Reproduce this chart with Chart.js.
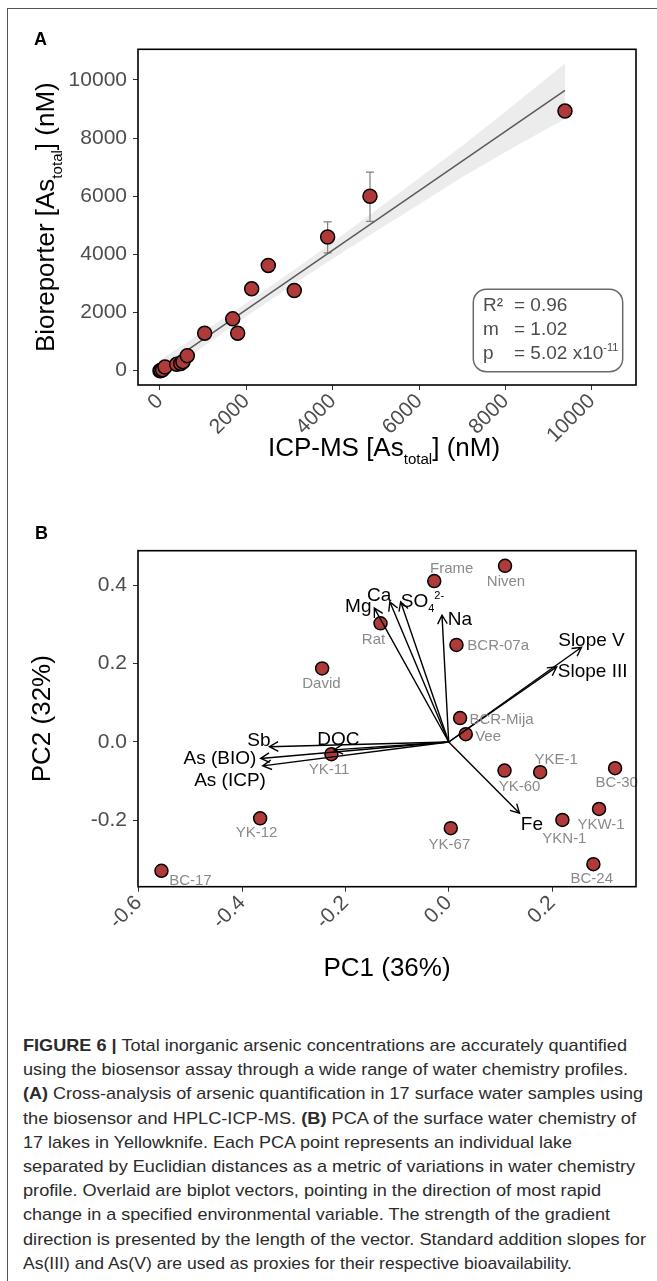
<!DOCTYPE html>
<html>
<head>
<meta charset="utf-8">
<script src="https://cdn.jsdelivr.net/npm/chart.js@4.4.1/dist/chart.umd.min.js"></script>
<style>
  body { margin: 0; background: #fff; width: 657px; height: 1281px; overflow: hidden; position: relative; }
  #frameTop { position: absolute; left: 7px; top: 8px; width: 660px; border-top: 1px solid #555; }
  #frameLeft { position: absolute; left: 7px; top: 8px; height: 1290px; border-left: 1px solid #555; }
  canvas { position: absolute; left: 0; }
  #chartA { top: 0; }
  #chartB { top: 500px; }
  #caption { position: absolute; left: 23px; top: 1034px; font-family: "Liberation Sans Narrow", "Liberation Sans", Arial, sans-serif;
             font-size: 17px; line-height: 24.2px; color: #2b2b2b; }
  #caption div { white-space: nowrap; height: 24.2px; }
  #caption span { display: inline-block; transform-origin: 0 50%; }
</style>
</head>
<body>
<div id="frameTop"></div>
<div id="frameLeft"></div>
<canvas id="chartA" width="657" height="500"></canvas>
<canvas id="chartB" width="657" height="500"></canvas>
<div id="caption">
  <div><span><b>FIGURE 6 |</b> Total inorganic arsenic concentrations are accurately quantified</span></div>
  <div><span>using the biosensor assay through a wide range of water chemistry profiles.</span></div>
  <div><span><b>(A)</b> Cross-analysis of arsenic quantification in 17 surface water samples using</span></div>
  <div><span>the biosensor and HPLC-ICP-MS. <b>(B)</b> PCA of the surface water chemistry of</span></div>
  <div><span>17 lakes in Yellowknife. Each PCA point represents an individual lake</span></div>
  <div><span>separated by Euclidian distances as a metric of variations in water chemistry</span></div>
  <div><span>profile. Overlaid are biplot vectors, pointing in the direction of most rapid</span></div>
  <div><span>change in a specified environmental variable. The strength of the gradient</span></div>
  <div><span>direction is presented by the length of the vector. Standard addition slopes for</span></div>
  <div><span>As(III) and As(V) are used as proxies for their respective bioavailability.</span></div>
</div>
<script>
// panel A: arsenic, ICP-MS vs bioreporter (nM)
const icpMs       = [0, 20, 60, 116, 386, 480, 532, 632, 1034, 1683, 1798, 2122, 2507, 3109, 3881, 4861, 9375]
const bioreporter = [0, 10, 30, 128, 220, 250, 310, 517, 1290, 1783, 1290, 2817, 3621, 2759, 4600, 6000, 8931]
const bioErrLow   = [null, null, null, null, null, null, null, null, null, null, null, null, null, null, 4050, 5140, null]
const bioErrHigh  = [null, null, null, null, null, null, null, null, null, null, null, null, null, null, 5120, 6830, null]
// fitted line and its confidence band
const fitX = [39, 9375]
const fitY = [100, 9640]
const bandX    = [39, 1000, 2000, 3000, 4000, 5000, 6000, 7000, 8000, 9375]
const bandLow  = [-200, 820, 1870, 2880, 3860, 4800, 5730, 6660, 7520, 8670]
const bandHigh = [400, 1340, 2330, 3360, 4420, 5520, 6630, 7740, 8920, 10570]
const ticksA = [0, 2000, 4000, 6000, 8000, 10000]
const statNames  = ['R\u00b2', 'm', 'p']
const statValues = ['= 0.96', '= 1.02', '= 5.02 x10^{-11}']

// panel B: PCA of lake water chemistry
const lakes = ['Frame', 'Niven', 'Rat', 'BCR-07a', 'David', 'BCR-Mija', 'Vee', 'YK-11', 'YK-60', 'YKE-1',
               'BC-30', 'YKW-1', 'YKN-1', 'YK-12', 'YK-67', 'BC-24', 'BC-17']
const pc1 = [-0.028, 0.109, -0.132, 0.015, -0.245, 0.022, 0.033, -0.227, 0.108, 0.177, 0.322, 0.291, 0.220, -0.365, 0.004, 0.280, -0.556]
const pc2 = [0.411, 0.450, 0.303, 0.248, 0.188, 0.061, 0.020, -0.031, -0.073, -0.077, -0.067, -0.171, -0.199, -0.195, -0.220, -0.312, -0.329]
const vectors = ['Mg', 'Ca', 'SO_{4}^{2-}', 'Na', 'Slope V', 'Slope III', 'Sb', 'DOC', 'As (BIO)', 'As (ICP)', 'Fe']
const vecPC1 = [-0.144, -0.114, -0.093, -0.013, 0.257, 0.209, -0.347, -0.222, -0.364, -0.360, 0.137]
const vecPC2 = [0.342, 0.358, 0.358, 0.324, 0.242, 0.192, -0.012, -0.020, -0.042, -0.061, -0.182]
const ticksBx = [-0.6, -0.4, -0.2, 0, 0.2]
const ticksBy = [-0.2, 0, 0.2, 0.4]

// label placement (pixels from the mark)
const lakeLabelDx = [17.4, 1, -7, 41.7, -0.7, 41.4, 22.3, -2.4, 15, 16, 1.6, 2, 2, -3.6, -1.4, -1.6, 29]
const lakeLabelDy = [-13.4, 15, 15.4, 0, 14.5, 0, 1.5, 14, 15.5, -14, 13.4, 15, 18, 13.4, 15, 13.7, 8.3]
const vecLabelDx = [-16, -10.6, 21.8, 18, 10, 36, -10.6, 4.4, -40.7, -32.7, 12.4]
const vecLabelDy = [-3, -7.7, -2.2, 3, -8, 3, -7.7, -12, -1.3, 13, 9.7]

const FONT = '"Liberation Sans", Arial, Helvetica, sans-serif'
const RED = '#b03a3a'
Chart.defaults.font.family = FONT

// "a_{sub}" and "a^{sup}" text pieces
function richParts(s) {
    const out = []
    const re = /([_^])\{([^}]*)\}/g
    let last = 0, m
    while ((m = re.exec(s))) {
        if (m.index > last) out.push({ t: s.slice(last, m.index), k: '' })
        out.push({ t: m[2], k: m[1] })
        last = re.lastIndex
    }
    if (last < s.length) out.push({ t: s.slice(last), k: '' })
    return out
}
function drawRich(ctx, s, x, y, size, align, color, weight) {
    const parts = richParts(s)
    const fontFor = k => (weight || '') + ' ' + (k ? size * 0.58 : size) + 'px ' + FONT
    let w = 0
    parts.forEach(p => { ctx.font = fontFor(p.k); p.w = ctx.measureText(p.t).width; w += p.w })
    let cx = align === 'center' ? x - w / 2 : align === 'right' ? x - w : x
    ctx.fillStyle = color
    ctx.textAlign = 'left'
    ctx.textBaseline = 'alphabetic'
    parts.forEach(p => {
        ctx.font = fontFor(p.k)
        const dy = p.k === '_' ? size * 0.3 : p.k === '^' ? -size * 0.42 : 0
        ctx.fillText(p.t, cx, y + dy)
        cx += p.w
    })
}

function axis(min, max, ticks, fmt, isX, fit) {
    return {
        type: 'linear', min: min, max: max,
        afterBuildTicks: s => { s.ticks = ticks.map(v => ({ value: v })) },
        afterFit: s => { if (isX) s.height = fit; else s.width = fit },
        ticks: Object.assign({ autoSkip: false, color: '#4d4d4d', callback: fmt },
            isX ? { minRotation: 45, maxRotation: 45, padding: 5, font: { size: 21, lineHeight: 0.38 } }
                : { padding: 6, font: { size: 21 } }),
        grid: { display: true, drawOnChartArea: false, drawTicks: true, tickLength: 5, color: '#333', lineWidth: 1 },
        border: { display: false }
    }
}

const panelBox = {
    id: 'panelBox',
    afterDraw(chart) {
        const a = chart.chartArea, ctx = chart.ctx
        ctx.save()
        ctx.strokeStyle = '#000'
        ctx.lineWidth = 1.6
        ctx.strokeRect(a.left, a.top, a.right - a.left, a.bottom - a.top)
        ctx.restore()
    }
}

// ---------- chart A ----------
const errorBars = {
    id: 'errorBars',
    beforeDatasetsDraw(chart) {
        const ctx = chart.ctx, xs = chart.scales.x, ys = chart.scales.y
        ctx.save()
        ctx.strokeStyle = '#7f7f7f'
        ctx.lineWidth = 1.2
        icpMs.forEach((v, i) => {
            if (bioErrLow[i] == null) return
            const px = xs.getPixelForValue(v)
            const lo = ys.getPixelForValue(bioErrLow[i]), hi = ys.getPixelForValue(bioErrHigh[i])
            ctx.beginPath()
            ctx.moveTo(px, lo); ctx.lineTo(px, hi)
            ctx.moveTo(px - 4, lo); ctx.lineTo(px + 4, lo)
            ctx.moveTo(px - 4, hi); ctx.lineTo(px + 4, hi)
            ctx.stroke()
        })
        ctx.restore()
    }
}
const decorA = {
    id: 'decorA',
    afterDraw(chart) {
        const ctx = chart.ctx, a = chart.chartArea
        ctx.save()
        // stats box
        const bx = 473.3, by = 289.3, bw = 149.4, bh = 82.4, r = 13
        ctx.strokeStyle = '#6b6b6b'
        ctx.lineWidth = 1.5
        ctx.beginPath()
        ctx.roundRect(bx, by, bw, bh, r)
        ctx.stroke()
        statNames.forEach((n, i) => {
            const y = 310.5 + i * 24
            drawRich(ctx, n, 483, y, 19, 'left', '#4d4d4d')
            drawRich(ctx, statValues[i], 514, y, 19, 'left', '#4d4d4d')
        })
        // titles
        drawRich(ctx, 'A', 34, 45, 18, 'left', '#000', 'bold')
        drawRich(ctx, 'ICP-MS [As_{total}] (nM)', (a.left + a.right) / 2 - 3, 456, 26, 'center', '#000')
        ctx.translate(54, (a.top + a.bottom) / 2)
        ctx.rotate(-Math.PI / 2)
        drawRich(ctx, 'Bioreporter [As_{total}] (nM)', 0, 0, 26, 'center', '#000')
        ctx.restore()
    }
}

new Chart(document.getElementById('chartA'), {
    type: 'line',
    data: {
        datasets: [
            { data: icpMs.map((x, i) => ({ x: x, y: bioreporter[i] })), showLine: false,
              pointRadius: 7, pointHoverRadius: 7, pointBackgroundColor: RED, pointBorderColor: '#000', pointBorderWidth: 1.5 },
            { data: fitX.map((x, i) => ({ x: x, y: fitY[i] })), borderColor: '#5a5a5a', borderWidth: 1.5, pointRadius: 0, fill: false },
            { data: bandX.map((x, i) => ({ x: x, y: bandHigh[i] })), borderWidth: 0, borderColor: 'rgba(0,0,0,0)', pointRadius: 0,
              fill: '+1', backgroundColor: 'rgba(150,150,150,0.18)' },
            { data: bandX.map((x, i) => ({ x: x, y: bandLow[i] })), borderWidth: 0, borderColor: 'rgba(0,0,0,0)', pointRadius: 0, fill: false }
        ]
    },
    options: {
        responsive: false, animation: false,
        layout: { padding: { left: 0, right: 21, top: 49.3, bottom: 0 } },
        plugins: { legend: { display: false }, tooltip: { enabled: false } },
        scales: {
            x: axis(-509, 11019, ticksA, v => String(v), true, 115),
            y: axis(-492, 11056, ticksA, v => String(v), false, 138)
        }
    },
    plugins: [errorBars, panelBox, decorA]
})

// ---------- chart B ----------
const biplot = {
    id: 'biplot',
    afterDatasetsDraw(chart) {
        const ctx = chart.ctx, xs = chart.scales.x, ys = chart.scales.y
        const ox = xs.getPixelForValue(0), oy = ys.getPixelForValue(0)
        ctx.save()
        ctx.strokeStyle = '#000'
        ctx.lineWidth = 1.4
        vectors.forEach((n, i) => {
            const tx = xs.getPixelForValue(vecPC1[i]), ty = ys.getPixelForValue(vecPC2[i])
            const ang = Math.atan2(ty - oy, tx - ox), L = 10, h = 0.5
            ctx.beginPath()
            ctx.moveTo(ox, oy); ctx.lineTo(tx, ty)
            ctx.moveTo(tx - L * Math.cos(ang - h), ty - L * Math.sin(ang - h))
            ctx.lineTo(tx, ty)
            ctx.lineTo(tx - L * Math.cos(ang + h), ty - L * Math.sin(ang + h))
            ctx.stroke()
        })
        vectors.forEach((n, i) => {
            const tx = xs.getPixelForValue(vecPC1[i]), ty = ys.getPixelForValue(vecPC2[i])
            drawRich(ctx, n, tx + vecLabelDx[i], ty + vecLabelDy[i] + 7, 19, 'center', '#000')
        })
        lakes.forEach((n, i) => {
            const px = xs.getPixelForValue(pc1[i]), py = ys.getPixelForValue(pc2[i])
            drawRich(ctx, n, px + lakeLabelDx[i], py + lakeLabelDy[i] + 5.4, 15, 'center', '#8a8a8a')
        })
        ctx.restore()
    }
}
const decorB = {
    id: 'decorB',
    afterDraw(chart) {
        const ctx = chart.ctx, a = chart.chartArea
        ctx.save()
        drawRich(ctx, 'B', 35, 39, 18, 'left', '#000', 'bold')
        drawRich(ctx, 'PC1 (36%)', (a.left + a.right) / 2, 476, 26, 'center', '#000')
        ctx.translate(50, (a.top + a.bottom) / 2)
        ctx.rotate(-Math.PI / 2)
        drawRich(ctx, 'PC2 (32%)', 0, 0, 26, 'center', '#000')
        ctx.restore()
    }
}

new Chart(document.getElementById('chartB'), {
    type: 'scatter',
    data: {
        datasets: [
            { data: pc1.map((x, i) => ({ x: x, y: pc2[i] })),
              pointRadius: 6.5, pointHoverRadius: 6.5, pointBackgroundColor: RED, pointBorderColor: '#000', pointBorderWidth: 1.5 }
        ]
    },
    options: {
        responsive: false, animation: false,
        layout: { padding: { left: 0, right: 21, top: 50.7, bottom: 0 } },
        plugins: { legend: { display: false }, tooltip: { enabled: false } },
        scales: {
            x: axis(-0.6014, 0.3625, ticksBx, v => v.toFixed(1), true, 113.3),
            y: axis(-0.3696, 0.4886, ticksBy, v => v.toFixed(1), false, 138)
        }
    },
    plugins: [panelBox, biplot, decorB]
})

// caption lines stretched to the printed line lengths
const captionWidths = [604, 605, 620, 613, 549, 612, 578, 587, 623, 549]
document.querySelectorAll('#caption span').forEach((s, i) => {
    const w = s.getBoundingClientRect().width
    s.style.transform = 'scaleX(' + (captionWidths[i] / w) + ')'
})
</script>
</body>
</html>
